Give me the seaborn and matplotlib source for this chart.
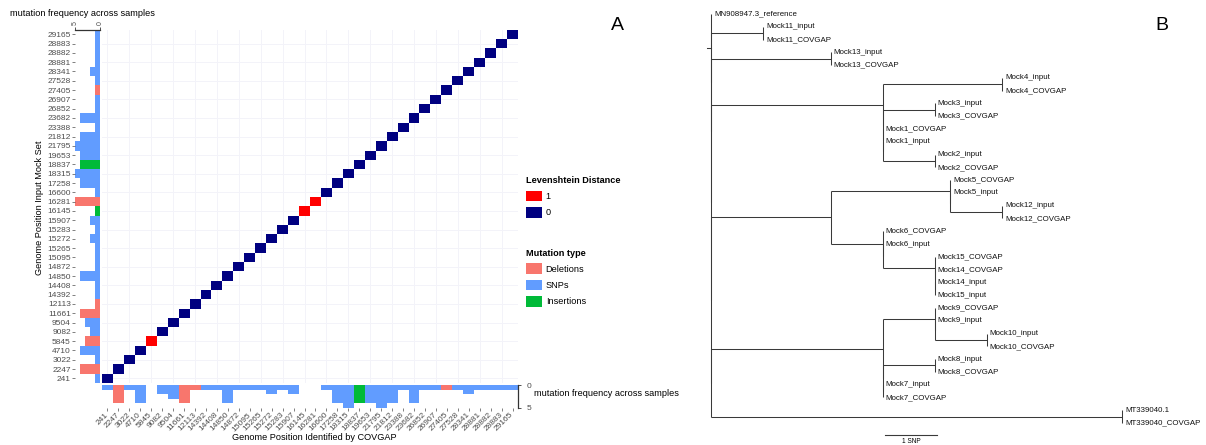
import numpy as np
import pandas as pd
import matplotlib
matplotlib.use("Agg")
import matplotlib.pyplot as plt
import seaborn as sns
from matplotlib.colors import ListedColormap
from matplotlib.patches import Patch

# ---------------- data ----------------
positions = ["241", "2247", "3022", "4710", "5845", "9082", "9504", "11661", "12113",
             "14392", "14408", "14850", "14872", "15095", "15265", "15272", "15283",
             "15907", "16145", "16281", "16600", "17258", "18315", "18837", "19653",
             "21795", "21812", "23388", "23682", "26852", "26907", "27405", "27528",
             "28341", "28881", "28882", "28883", "29165"]
levenshtein = [0, 0, 0, 0, 1, 0, 0, 0, 0,
               0, 0, 0, 0, 0, 0, 0, 0,
               0, 1, 1, 0, 0, 0, 0, 0,
               0, 0, 0, 0, 0, 0, 0, 0,
               0, 0, 0, 0, 0]

input_freq = [1, 4, 1, 4, 3, 2, 3, 4, 1,
              1, 1, 4, 1, 1, 1, 2, 1,
              2, 1, 5, 1, 4, 5, 4, 4,
              5, 4, 1, 4, 1, 1, 1, 1,
              2, 1, 1, 1, 1]
input_type = ["SNPs", "Deletions", "SNPs", "SNPs", "Deletions", "SNPs", "SNPs", "Deletions", "Deletions",
              "SNPs", "SNPs", "SNPs", "SNPs", "SNPs", "SNPs", "SNPs", "SNPs",
              "SNPs", "Insertions", "Deletions", "SNPs", "SNPs", "SNPs", "Insertions", "SNPs",
              "SNPs", "SNPs", "SNPs", "SNPs", "SNPs", "SNPs", "Deletions", "SNPs",
              "SNPs", "SNPs", "SNPs", "SNPs", "SNPs"]

covgap_positions = ["241", "2247", "3022", "4710", "9082", "9504", "11661", "12113",
                    "14392", "14408", "14850", "14872", "15095", "15265", "15272", "15283",
                    "15907", "16600", "17258", "18315", "18837", "19653",
                    "21795", "21812", "23388", "23682", "26852", "26907", "27405", "27528",
                    "28341", "28881", "28882", "28883", "29165"]
covgap_freq = [1, 4, 1, 4, 2, 3, 4, 1,
               1, 1, 4, 1, 1, 1, 2, 1,
               2, 1, 4, 5, 4, 4,
               5, 4, 1, 4, 1, 1, 1, 1,
               2, 1, 1, 1, 1]
covgap_type = ["SNPs", "Deletions", "SNPs", "SNPs", "SNPs", "SNPs", "Deletions", "Deletions",
               "SNPs", "SNPs", "SNPs", "SNPs", "SNPs", "SNPs", "SNPs", "SNPs",
               "SNPs", "SNPs", "SNPs", "SNPs", "Insertions", "SNPs",
               "SNPs", "SNPs", "SNPs", "SNPs", "SNPs", "SNPs", "Deletions", "SNPs",
               "SNPs", "SNPs", "SNPs", "SNPs", "SNPs"]

type_order = ["Deletions", "SNPs", "Insertions"]
type_colors = {"Deletions": "#F8766D", "SNPs": "#619CFF", "Insertions": "#00BA38"}
dist_colors = {0: "#000080", 1: "#FF0000"}

# phylogenetic tree (branch lengths in SNPs)
clade_m11 = "(Mock11_input:0,Mock11_COVGAP:0)"
clade_m13 = "(Mock13_input:0,Mock13_COVGAP:0)"
clade_m4 = "(Mock4_input:0,Mock4_COVGAP:0)"
clade_m3 = "(Mock3_input:0,Mock3_COVGAP:0)"
clade_m2 = "(Mock2_input:0,Mock2_COVGAP:0)"
clade_m12 = "(Mock12_input:0,Mock12_COVGAP:0)"
clade_m1415 = "(Mock15_COVGAP:0,(Mock14_COVGAP:0,(Mock14_input:0,Mock15_input:0):0):0)"
clade_m10 = "(Mock10_input:0,Mock10_COVGAP:0)"
clade_m8 = "(Mock8_input:0,Mock8_COVGAP:0)"
clade_mt = "(MT339040.1:0,MT339040_COVGAP:0)"
group_a = f"({clade_m4}:2.3,({clade_m3}:1.0,(Mock1_COVGAP:0,(Mock1_input:0,{clade_m2}:1.0):0):0):0)"
clade_m5 = f"(Mock5_COVGAP:0,(Mock5_input:0,{clade_m12}:1.0):0)"
clade_m6 = f"(Mock6_COVGAP:0,(Mock6_input:0,{clade_m1415}:1.0):0)"
group_b = f"({clade_m5}:2.3,{clade_m6}:1.0)"
clade_m9 = f"(Mock9_COVGAP:0,(Mock9_input:0,{clade_m10}:1.0):0)"
group_c = f"({clade_m9}:1.0,({clade_m8}:1.0,(Mock7_input:0,Mock7_COVGAP:0):0):0)"
tree_newick = (f"(MN908947.3_reference:0,({clade_m11}:1.0,({clade_m13}:2.3,({group_a}:3.3,"
               f"({group_b}:2.3,({group_c}:3.3,{clade_mt}:7.9):0):0):0):0):0);")
root_edge = 0.08

# ---------------- style ----------------
plt.rcParams["font.family"] = ["Liberation Sans", "DejaVu Sans"]
GRAY = "#4D4D4D"
W, H = 1206, 445
fig = plt.figure(figsize=(W / 100, H / 100), dpi=100)


def axes_px(x0, y0, x1, y1):
    return fig.add_axes([x0 / W, 1 - y1 / H, (x1 - x0) / W, (y1 - y0) / H])


n = len(positions)
top, bottom = 29.65, 382.95
ax_hm = axes_px(102, top, 518, bottom)
ax_left = axes_px(75, top, 100, bottom)
ax_bot = axes_px(102, 385, 518, 407.5)
ax_tree = axes_px(700, 0, 1206, 445)

# ---------------- heatmap ----------------
hm_df = pd.DataFrame({"covgap": positions, "input": positions, "dist": levenshtein})
mat = hm_df.pivot(index="input", columns="covgap", values="dist").reindex(
    index=positions[::-1], columns=positions)
sns.heatmap(mat, ax=ax_hm, cmap=ListedColormap([dist_colors[0], dist_colors[1]]),
            vmin=0, vmax=1, cbar=False, xticklabels=False, yticklabels=False)
ax_hm.set_xlabel("")
ax_hm.set_ylabel("")
ax_hm.set_xticks(np.arange(0.5, n, 2), minor=True)
ax_hm.set_yticks(np.arange(n - 0.5, 0, -2), minor=True)
ax_hm.set_axisbelow(True)
ax_hm.grid(True, which="minor", color="#F3F3F9", lw=0.7)
ax_hm.tick_params(which="both", length=0)
for s in ax_hm.spines.values():
    s.set_visible(False)

# ---------------- left bars (input) ----------------
left_df = pd.DataFrame({"pos": positions, "freq": input_freq, "type": input_type})
sns.barplot(data=left_df, y="pos", x="freq", hue="type", order=positions[::-1],
            hue_order=type_order, palette=type_colors, dodge=False, width=1.0,
            orient="h", legend=False, ax=ax_left, linewidth=0, saturation=1)
ax_left.set_xlim(5, 0)
ax_left.set_ylim(n - 0.5, -0.5)
ax_left.set_xlabel("")
ax_left.set_ylabel("")
for k, s in ax_left.spines.items():
    s.set_visible(k == "top")
ax_left.spines["top"].set_linewidth(0.9)
ax_left.spines["top"].set_color("#333333")
ax_left.xaxis.tick_top()
ax_left.set_xticks([5, 0])
ax_left.set_xticklabels(["5", "0"], rotation=90, fontsize=5, color=GRAY)
ax_left.tick_params(axis="x", length=2, width=0.6, pad=1, color="#333333")
ax_left.tick_params(axis="y", length=2, width=0.5, pad=1, color=GRAY, labelsize=6,
                    labelcolor=GRAY)

# ---------------- bottom bars (COVGAP) ----------------
bot_df = pd.DataFrame({"pos": covgap_positions, "freq": covgap_freq, "type": covgap_type})
sns.barplot(data=bot_df, x="pos", y="freq", hue="type", order=positions,
            hue_order=type_order, palette=type_colors, dodge=False, width=1.0,
            legend=False, ax=ax_bot, linewidth=0, saturation=1)
ax_bot.set_xlim(-0.5, n - 0.5)
ax_bot.set_ylim(5, 0)
ax_bot.set_xlabel("")
ax_bot.set_ylabel("")
for k, s in ax_bot.spines.items():
    s.set_visible(k == "right")
ax_bot.spines["right"].set_linewidth(0.9)
ax_bot.spines["right"].set_color("#333333")
ax_bot.yaxis.tick_right()
ax_bot.set_yticks([0, 5])
ax_bot.set_yticklabels(["0", "5"], fontsize=6, color=GRAY)
ax_bot.tick_params(axis="y", length=2, width=0.6, pad=4, color="#333333")
ax_bot.set_xticks(range(n))
ax_bot.set_xticklabels(positions, rotation=45, ha="right", va="center",
                       rotation_mode="anchor", fontsize=6, color=GRAY)
ax_bot.tick_params(axis="x", length=2, width=0.5, pad=2.5, color=GRAY)

# ---------------- texts ----------------
fig.text(10 / W, 1 - 13 / H, "mutation frequency across samples", fontsize=6.6,
         ha="left", va="center")
fig.text(534 / W, 1 - 394 / H, "mutation frequency across samples", fontsize=6.6,
         ha="left", va="center")
fig.text(40 / W, 1 - 208 / H, "Genome Position Input Mock Set", fontsize=6.6,
         rotation=90, ha="center", va="center")
fig.text(314 / W, 1 - 438 / H, "Genome Position Identified by COVGAP", fontsize=6.6,
         ha="center", va="center")
fig.text(617 / W, 1 - 25 / H, "A", fontsize=14, ha="center", va="center")
fig.text(1162 / W, 1 - 25 / H, "B", fontsize=14, ha="center", va="center")

# ---------------- legends ----------------
leg_kw = dict(loc="upper left", frameon=False, fontsize=6.6,
              title_fontproperties={"weight": "bold", "size": 6.6},
              handlelength=1.75, handleheight=1.42, handletextpad=0.4,
              labelspacing=0.62, alignment="left", borderpad=0, borderaxespad=0)
h1 = [Patch(facecolor=dist_colors[v], edgecolor="none", label=str(v)) for v in (1, 0)]
leg1 = fig.legend(handles=h1, title="Levenshtein Distance",
                  bbox_to_anchor=(526 / W, 1 - 176 / H), **leg_kw)
h2 = [Patch(facecolor=type_colors[t], edgecolor="none", label=t) for t in type_order]
leg2 = fig.legend(handles=h2, title="Mutation type",
                  bbox_to_anchor=(526 / W, 1 - 248.5 / H), **leg_kw)


# ---------------- tree ----------------
def parse_newick(s):
    s = s.strip().rstrip(";")
    i = 0

    def node():
        nonlocal i
        nd = {"children": [], "name": "", "length": 0.0}
        if s[i] == "(":
            i += 1
            while True:
                nd["children"].append(node())
                if s[i] == ",":
                    i += 1
                    continue
                if s[i] == ")":
                    i += 1
                    break
        st = i
        while i < len(s) and s[i] not in ":,()":
            i += 1
        nd["name"] = s[st:i]
        if i < len(s) and s[i] == ":":
            i += 1
            st = i
            while i < len(s) and s[i] not in ",()":
                i += 1
            nd["length"] = float(s[st:i])
        return nd

    return node()


tree = parse_newick(tree_newick)
tip_counter = [0]


def layout(nd, x0):
    nd["x"] = x0 + nd["length"]
    if nd["children"]:
        for c in nd["children"]:
            layout(c, nd["x"])
        nd["y"] = (nd["children"][0]["y"] + nd["children"][-1]["y"]) / 2
    else:
        nd["y"] = tip_counter[0]
        tip_counter[0] += 1


tree["length"] = 0.0
layout(tree, 0.0)
LC = "#3a3a3a"
LW = 0.75


def draw(nd):
    if nd["children"]:
        ax_tree.plot([nd["x"], nd["x"]], [nd["children"][0]["y"], nd["children"][-1]["y"]],
                     color=LC, lw=LW, solid_capstyle="butt")
        for c in nd["children"]:
            ax_tree.plot([nd["x"], c["x"]], [c["y"], c["y"]], color=LC, lw=LW,
                         solid_capstyle="butt")
            draw(c)
    else:
        ax_tree.text(nd["x"] + 0.06, nd["y"], nd["name"], fontsize=5.7, ha="left",
                     va="center", color="#111111")


ax_tree.plot([tree["x"] - root_edge, tree["x"]], [tree["y"], tree["y"]], color=LC, lw=LW)
draw(tree)
px_per_snp = 52.0
tip_pitch = 12.78
ax_tree.set_xlim(-11 / px_per_snp, 495 / px_per_snp)
ax_tree.set_ylim((445 - 14) / tip_pitch, -14 / tip_pitch)
sb_x = 3.35
sb_y = (435 - 14) / tip_pitch
ax_tree.plot([sb_x, sb_x + 1], [sb_y, sb_y], color=LC, lw=0.8)
ax_tree.text(sb_x + 0.5, (441.5 - 14) / tip_pitch, "1 SNP", fontsize=4.7, ha="center",
             va="center")
ax_tree.axis("off")

fig.savefig("out.png", dpi=100)
